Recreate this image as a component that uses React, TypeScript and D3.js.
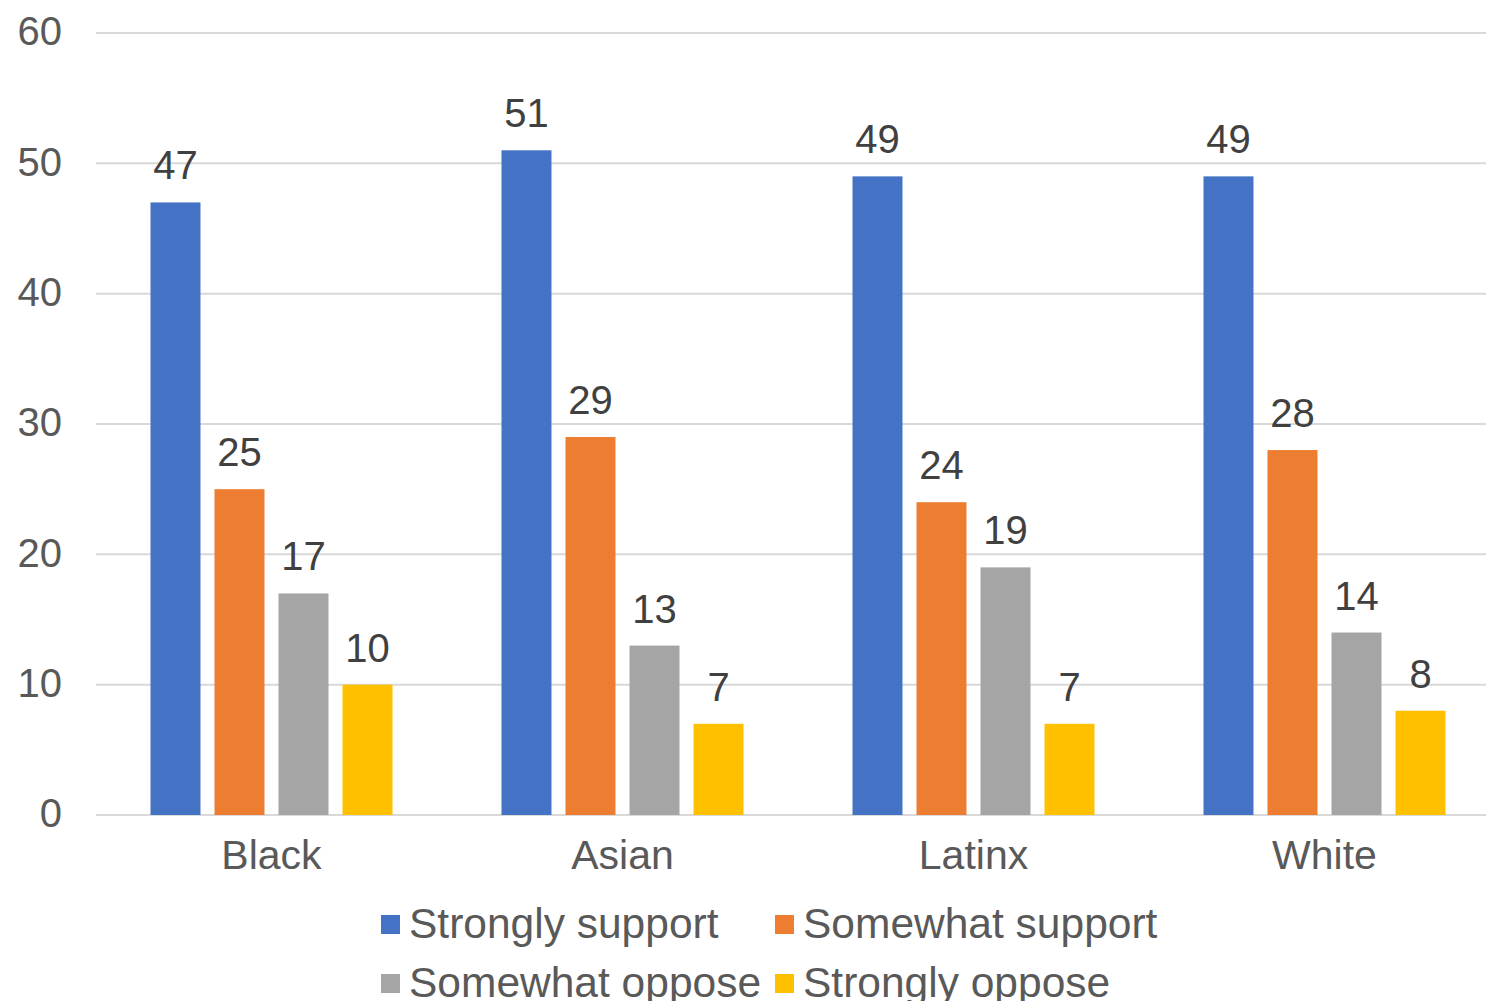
import React from "react";
import * as d3 from "d3";

const categories = ["Black", "Asian", "Latinx", "White"];
const seriesNames = ["Strongly support", "Somewhat support", "Somewhat oppose", "Strongly oppose"];
const stronglySupport = [47, 51, 49, 49];
const somewhatSupport = [25, 29, 24, 28];
const somewhatOppose = [17, 13, 19, 14];
const stronglyOppose = [10, 7, 7, 8];
const yTicks = [0, 10, 20, 30, 40, 50, 60];
const colors = ["#4472c4", "#ed7d31", "#a5a5a5", "#ffc000"];

const seriesValues = [stronglySupport, somewhatSupport, somewhatOppose, stronglyOppose];

const W = 1486;
const H = 1001;
const FONT = "'Liberation Sans', Arial, Helvetica, sans-serif";

export default function App() {
  const x0 = d3.scaleBand<string>().domain(categories).range([96, 1500]).padding(0);
  const x1 = d3
    .scaleBand<string>()
    .domain(seriesNames)
    .range([54.5, 296.5])
    .paddingInner(0.219)
    .paddingOuter(0);
  const y = d3.scaleLinear().domain([0, 60]).range([815, 33]);

  const legendItems = [
    { name: seriesNames[0], x: 381, y: 923 },
    { name: seriesNames[1], x: 775, y: 923 },
    { name: seriesNames[2], x: 381, y: 982 },
    { name: seriesNames[3], x: 775, y: 982 },
  ];

  return (
    <div style={{ position: "fixed", left: 0, top: 0, width: W, height: H, background: "#fff" }}>
      <svg width={W} height={H} style={{ display: "block" }} fontFamily={FONT}>
        <rect x={0} y={0} width={W} height={H} fill="#fff" />
        {yTicks.map((t) => (
          <g key={t}>
            <line x1={96} x2={W} y1={y(t)} y2={y(t)} stroke="#d9d9d9" strokeWidth={2} />
            <text x={62} y={y(t)} dy="0.31em" textAnchor="end" fontSize={40} fill="#595959">
              {t}
            </text>
          </g>
        ))}
        {categories.map((c, ci) => (
          <g key={c} transform={`translate(${x0(c)},0)`}>
            {seriesNames.map((s, si) => {
              const v = seriesValues[si][ci];
              const bx = x1(s)!;
              return (
                <g key={s}>
                  <rect x={bx} y={y(v)} width={x1.bandwidth()} height={y(0) - y(v)} fill={colors[si]} />
                  <text
                    x={bx + x1.bandwidth() / 2}
                    y={y(v) - 23}
                    textAnchor="middle"
                    fontSize={40}
                    fill="#404040"
                  >
                    {v}
                  </text>
                </g>
              );
            })}
            <text x={x0.bandwidth() / 2} y={869} textAnchor="middle" fontSize={41} fill="#595959">
              {c}
            </text>
          </g>
        ))}
        {legendItems.map((it, i) => (
          <g key={it.name}>
            <rect x={it.x} y={it.y - 8} width={19} height={19} fill={colors[i]} />
            <text x={it.x + 28} y={it.y} dy="0.36em" fontSize={42.5} fill="#595959">
              {it.name}
            </text>
          </g>
        ))}
      </svg>
    </div>
  );
}
